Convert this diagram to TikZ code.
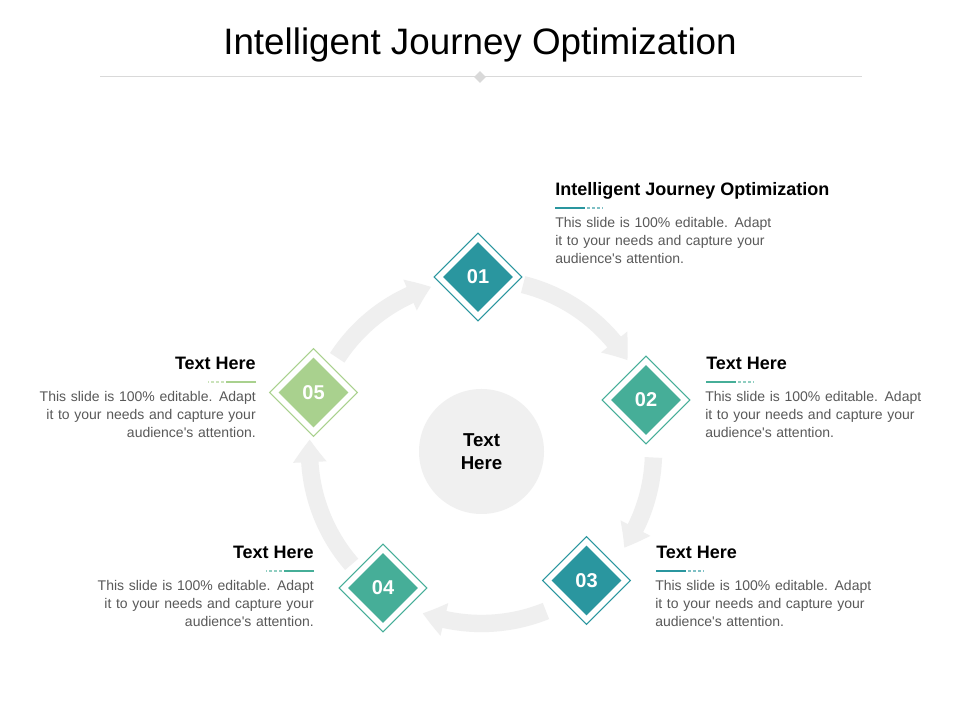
\documentclass[tikz,border=0pt]{standalone}
\usepackage{fontspec}
\setmainfont{Liberation Sans}
\usepackage{tikz}
\usetikzlibrary{shapes, arrows.meta, bending, positioning, calc}
\definecolor{tealdark}{HTML}{2A969F}
\definecolor{tealgreen}{HTML}{46AE98}
\definecolor{leafgreen}{HTML}{A9D18E}
\definecolor{ringgray}{HTML}{EFEFEF}
\definecolor{coregray}{HTML}{F0F0F0}
\definecolor{bodygray}{HTML}{595959}
\definecolor{rulegray}{HTML}{D9D9D9}
\tikzstyle{title} =
        [
                inner sep = 0pt,
                text = black,
                font = \fontsize{27.6}{32}\selectfont
        ]
\tikzstyle{frame} =
        [
                diamond,
                draw,
                fill = white,
                line width = 0.8pt,
                inner sep = 0pt,
                minimum size = 66pt
        ]
\tikzstyle{badge} =
        [
                diamond,
                inner sep = 0pt,
                minimum size = 52.5pt,
                text = white,
                font = \fontsize{15}{18}\selectfont\bfseries
        ]
\tikzstyle{heading} =
        [
                inner sep = 0pt,
                text = black,
                font = \fontsize{13.5}{16}\selectfont\bfseries
        ]
\tikzstyle{body} =
        [
                inner sep = 0pt,
                text width = 180pt,
                text = bodygray,
                font = \fontsize{10.5}{13.5}\selectfont
        ]
\tikzstyle{ring} =
        [
                draw = ringgray,
                line width = 13pt,
                -{Triangle[length = 17pt, width = 24pt, bend]}
        ]
\tikzstyle{core} =
        [
                circle,
                fill = coregray,
                minimum size = 93.75pt,
                inner sep = 0pt,
                align = center,
                font = \fontsize{14}{17.25}\selectfont\bfseries
        ]
\tikzstyle{solidrule} =
        [
                line width = 1.1pt
        ]
\tikzstyle{dashrule} =
        [
                line width = 1.1pt,
                dash pattern = on 2.25pt off 1.5pt,
                opacity = 0.6
        ]

\begin{document}
\begin{tikzpicture}[x = 0.75pt, y = 0.75pt]
        \fill [white] (0,0) rectangle (960,720);
        \useasboundingbox (0,0) rectangle (960,720);
        \node [title, anchor = base] (title) at (480,665) {Intelligent\ Journey\ Optimization};
        \draw [rulegray, line width = 0.75pt] (100,643) -- (862,643);
        \node [diamond, fill = rulegray, inner sep = 0pt, minimum size = 9pt] (mark) at (480,643) {};
        \node [core] (hub) at (481.5,268.5) {Text\\Here};
        \path [ring] ($(hub)+(76:172)$) arc [start angle = 76, end angle = 32, radius = 172];
        \path [ring] ($(hub)+(-2:172)$) arc [start angle = -2, end angle = -34, radius = 172];
        \path [ring] ($(hub)+(-68:172)$) arc [start angle = -68, end angle = -110, radius = 172];
        \path [ring] ($(hub)+(221:172)$) arc [start angle = 221, end angle = 176, radius = 172];
        \path [ring] ($(hub)+(147:172)$) arc [start angle = 147, end angle = 107, radius = 172];
        \node [frame, draw = tealdark] (f01) at (478,443) {};
        \node [frame, draw = tealgreen] (f02) at (646,320) {};
        \node [frame, draw = tealdark] (f03) at (586.5,139.5) {};
        \node [frame, draw = tealgreen] (f04) at (383,132) {};
        \node [frame, draw = leafgreen] (f05) at (313.5,327.5) {};
        \node [badge, fill = tealdark] (n01) at (f01) {01};
        \node [badge, fill = tealgreen] (n02) at (f02) {02};
        \node [badge, fill = tealdark] (n03) at (f03) {03};
        \node [badge, fill = tealgreen] (n04) at (f04) {04};
        \node [badge, fill = leafgreen] (n05) at (f05) {05};
        \node [heading, anchor = base west] (h01) at (555,524) {Intelligent Journey Optimization};
        \node [body, anchor = base west] (t01) at ($(h01.base west)+(0,-32)$) {This slide is 100\% editable.\kern1.5pt\ Adapt\\it to your needs and capture your\\audience\textquotesingle s attention.};
        \draw [solidrule, tealdark] ($(h01.base west)+(0,-12)$) -- ++(30,0);
        \draw [dashrule, tealdark] ($(h01.base west)+(32,-12)$) -- ++(16,0);
        \node [heading, anchor = base west] (h02) at (706,350) {Text Here};
        \node [body, anchor = base west] (t02) at ($(h02.base west)+(-1,-32)$) {This slide is 100\% editable.\kern1.5pt\ Adapt\\it to your needs and capture your\\audience\textquotesingle s attention.};
        \draw [solidrule, tealgreen] ($(h02.base west)+(0,-12)$) -- ++(30,0);
        \draw [dashrule, tealgreen] ($(h02.base west)+(32,-12)$) -- ++(16,0);
        \node [heading, anchor = base west] (h03) at (656,161) {Text Here};
        \node [body, anchor = base west] (t03) at ($(h03.base west)+(-1,-32)$) {This slide is 100\% editable.\kern1.5pt\ Adapt\\it to your needs and capture your\\audience\textquotesingle s attention.};
        \draw [solidrule, tealdark] ($(h03.base west)+(0,-12)$) -- ++(30,0);
        \draw [dashrule, tealdark] ($(h03.base west)+(32,-12)$) -- ++(16,0);
        \node [heading, anchor = base east] (h04) at (314,161) {Text Here};
        \node [body, align = right, anchor = base east] (t04) at ($(h04.base east)+(0,-32)$) {This slide is 100\% editable.\kern1.5pt\ Adapt\\it to your needs and capture your\\audience\textquotesingle s attention.};
        \draw [solidrule, tealgreen] ($(h04.base east)+(0,-12)$) -- ++(-30,0);
        \draw [dashrule, tealgreen] ($(h04.base east)+(-32,-12)$) -- ++(-16,0);
        \node [heading, anchor = base east] (h05) at (256,350) {Text Here};
        \node [body, align = right, anchor = base east] (t05) at ($(h05.base east)+(0,-32)$) {This slide is 100\% editable.\kern1.5pt\ Adapt\\it to your needs and capture your\\audience\textquotesingle s attention.};
        \draw [solidrule, leafgreen] ($(h05.base east)+(0,-12)$) -- ++(-30,0);
        \draw [dashrule, leafgreen] ($(h05.base east)+(-32,-12)$) -- ++(-16,0);
\end{tikzpicture}
\end{document}
